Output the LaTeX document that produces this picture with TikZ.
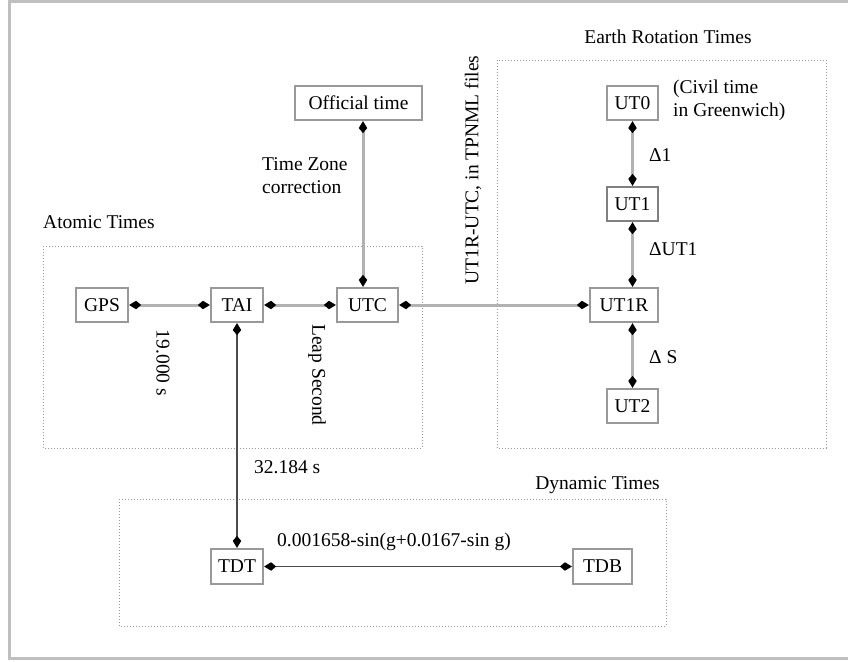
\documentclass[tikz,border=0pt]{standalone}
\usepackage{fontspec}
\setmainfont{Liberation Serif}
\usetikzlibrary{arrows.meta}
\begin{document}
\begin{tikzpicture}[x=1pt,y=-1pt,
  font=\fontsize{19.5}{23}\selectfont,
  tip/.tip={Kite[length=12pt,width=8.5pt,inset=5pt,black]},
  tbox/.style={draw=gray!80, line width=2.2pt, fill=white, minimum height=34pt, inner sep=2pt},
  grp/.style={draw=gray!80, line width=0.9pt, dash pattern=on 1pt off 2pt},
  link/.style={draw=gray!60, line width=3pt, tip-tip},
  thin link/.style={draw=black!70, line width=1.4pt, tip-tip},
  lbl/.style={inner sep=0pt}
]
\useasboundingbox (0,0) rectangle (848,661);
\clip (0,0) rectangle (848,661);
\fill[white] (0,0) rectangle (848,661);
% outer frame
\draw[gray!50, line width=3pt] (9.5,1.5) rectangle (860,658.5);

% group boxes
\draw[grp] (43,246) rectangle (422,448);
\draw[grp] (497,60) rectangle (826,448);
\draw[grp] (119,499) rectangle (666,626);
\node[lbl, anchor=west] (atl) at (43,222) {Atomic Times};
\node[lbl] (erl) at (668,37) {Earth Rotation Times};
\node[lbl, anchor=east] (dyl) at (660,485) {Dynamic Times};

% nodes
\node[tbox, minimum width=127pt] (off) at (358.5,103) {Official time};
\node[tbox, minimum width=52pt] (gps) at (102,305) {GPS};
\node[tbox, minimum width=52pt] (tai) at (237,305) {TAI};
\node[tbox, minimum width=61pt] (utc) at (367.5,305) {UTC};
\node[tbox, minimum width=68pt] (ut1r) at (624,305) {UT1R};
\node[tbox, minimum width=51pt] (ut0) at (632.5,103) {UT0};
\node[tbox, minimum width=51pt, draw=gray!100] (ut1) at (632.5,204) {UT1};
\node[tbox, minimum width=51pt] (ut2) at (632.5,406) {UT2};
\node[tbox, minimum width=52pt, minimum height=35pt] (tdt) at (237,566.5) {TDT};
\node[tbox, minimum width=59pt, minimum height=35pt] (tdb) at (602.5,566.5) {TDB};

\coordinate (ox) at (363,0);

% connectors
\draw[link] (gps.east) -- (tai.west);
\draw[link] (tai.east) -- (utc.west);
\draw[link] (utc.east) -- (ut1r.west);
\draw[link] (off.south -| ox) -- (utc.north -| ox);
\draw[link] (ut0.south) -- (ut1.north);
\draw[link] (ut1.south) -- (ut1r.north -| ut1);
\draw[link] (ut1r.south -| ut2) -- (ut2.north);
\draw[thin link] (tai.south) -- (tdt.north);
\draw[thin link] (tdt.east) -- (tdb.west);

% labels
\node[lbl, rotate=-90] (l19) at (163,363) {19.000 s};
\node[lbl, rotate=-90] (lleap) at (317,375) {Leap Second};
\node[lbl, anchor=west, align=left] (ltz) at (262,176) {Time Zone\\correction};
\node[lbl, rotate=90] (lut) at (473,170) {UT1R-UTC, in TPNML files};
\node[lbl, anchor=west, align=left] (lciv) at (673,100) {(Civil time\\in Greenwich)};
\node[lbl, anchor=west] (ld1) at (649,155) {Δ1};
\node[lbl, anchor=west] (ldut) at (649,249) {ΔUT1};
\node[lbl, anchor=west] (lds) at (649,357) {Δ S};
\node[lbl, anchor=west] (l32) at (254,467) {32.184 s};
\node[lbl, anchor=west] (lf) at (277,542) {0.001658-sin(g+0.0167-sin g)};
\end{tikzpicture}
\end{document}
